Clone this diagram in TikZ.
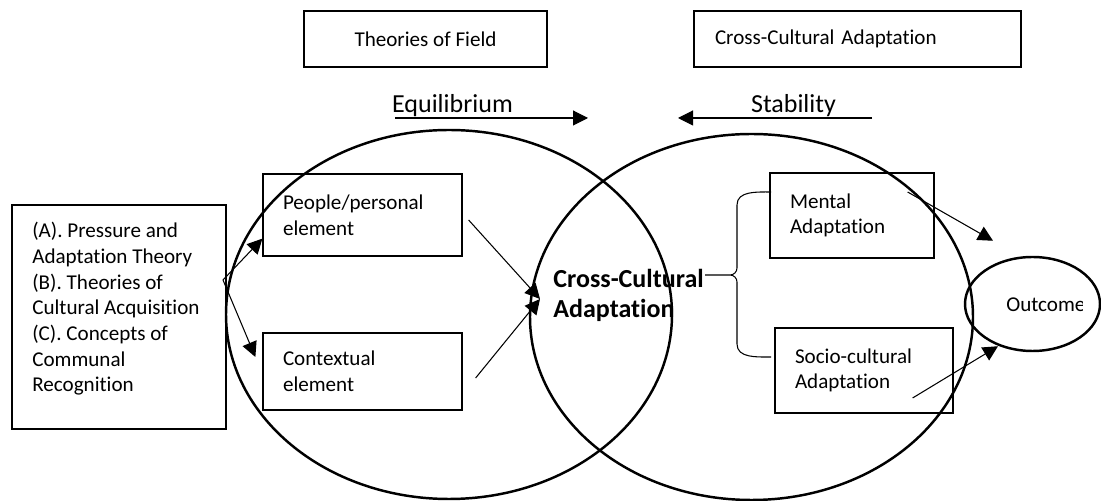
\documentclass[tikz,border=0pt]{standalone}
\usepackage{fontspec}
\setmainfont{Carlito}[Ligatures=NoCommon]
\usetikzlibrary{positioning,arrows.meta,shapes.geometric}

\tikzset{
  box/.style={draw, line width=0.7pt, inner xsep=0.4cm, align=left, font=\fontsize{12}{14.6}\selectfont},
  ring/.style={line width=1.4pt},
  link/.style={line width=0.6pt, -{Triangle[length=0.3cm,width=0.3cm]}},
  brace/.style={line width=0.6pt},
  force/.style={font=\fontsize{14.8}{17}\selectfont},
}

\begin{document}
\begin{tikzpicture}
\useasboundingbox (0,0) rectangle (22.02,10.02);

% the two fields
\draw[ring] (8.98,3.73) ellipse (4.46 and 3.69);
\draw[ring] (15.03,3.68) ellipse (4.43 and 3.66);

% headings
\node[box, align=center, minimum width=4.86cm, minimum height=1.12cm] (field) at (8.51,9.24) {Theories of Field};
\node[box, text width=5.7cm, inner xsep=0.42cm, minimum height=1.12cm] (cca) at (17.15,9.24) {Cross-Cultural Adaptation};

% forces pushing together
\node[force] (equil) at (9.05,7.9) {Equilibrium};
\node[force] (stab) at (15.87,7.9) {Stability};
\coordinate (eqfrom) at (7.9,7.66);
\coordinate (eqto) at (11.76,7.66);
\coordinate (stfrom) at (17.44,7.66);
\coordinate (stto) at (13.56,7.66);
\draw[link] (eqfrom) -- (eqto);
\draw[link] (stfrom) -- (stto);

% theory sources
\node[draw, line width=0.7pt, minimum width=4.28cm, minimum height=4.48cm] (sources) at (2.38,3.68) {};
\node[anchor=north west, inner sep=0pt, align=left, font=\fontsize{12}{14.6}\selectfont] (sourcetext) at (0.64,5.58)
  {(A). Pressure and\\Adaptation Theory\\(B). Theories of\\Cultural Acquisition\\(C). Concepts of\\Communal\\Recognition};

% elements
\node[box, text width=3.18cm, minimum height=1.64cm] (people) at (7.25,5.72) {People/personal\\element};
\node[box, text width=3.18cm, minimum height=1.54cm] (context) at (7.25,2.59) {Contextual\\element};

% overlap
\node[anchor=west, inner sep=0pt, align=left, font=\bfseries\fontsize{14.8}{17}\selectfont] (core) at (11.06,4.12) {Cross-Cultural\\Adaptation};

% adaptation types
\node[box, text width=2.48cm, minimum height=1.7cm] (mental) at (17.04,5.71) {Mental\\Adaptation};
\node[box, text width=2.76cm, minimum height=1.7cm] (socio) at (17.28,2.61) {Socio-cultural\\Adaptation};

% outcome
\node[draw, ellipse, ring, minimum width=2.7cm, minimum height=1.88cm] (outcome) at (20.65,3.94) {};
\begin{scope}
  \clip (19.3,3.4) rectangle (21.64,4.5);
  \node[anchor=west, inner sep=0pt, font=\fontsize{12}{14.6}\selectfont] (outtext) at (20.12,3.92) {Outcome};
\end{scope}

% arrows
\coordinate (fork) at (4.46,4.42);
\coordinate (hub) at (10.8,4.04);
\draw[link] (fork) -- ([yshift=0.36cm]people.south west);
\draw[link] (fork) -- ([shift={(-0.14,0.29)}]context.west);
\draw[link] ([shift={(0.12,-0.1)}]people.east) -- (hub);
\draw[link] ([shift={(0.26,-0.13)}]context.east) -- (hub);
\draw[link] ([shift={(-0.54,0.47)}]mental.east) -- ([shift={(-0.79,0.3)}]outcome.north);
\draw[link] ([shift={(-0.82,-0.55)}]socio.east) -- ([shift={(-0.69,0.12)}]outcome.south);

% brace
\draw[brace] (15.42,6.18) to[out=180,in=90] (14.74,5.92) -- (14.74,4.66) to[out=-90,in=0] (14.6,4.52) -- (14.1,4.52)
  (14.6,4.52) to[out=0,in=90] (14.74,4.38) -- (14.74,3.14) to[out=-90,in=180] (15.42,2.88);
\end{tikzpicture}
\end{document}
